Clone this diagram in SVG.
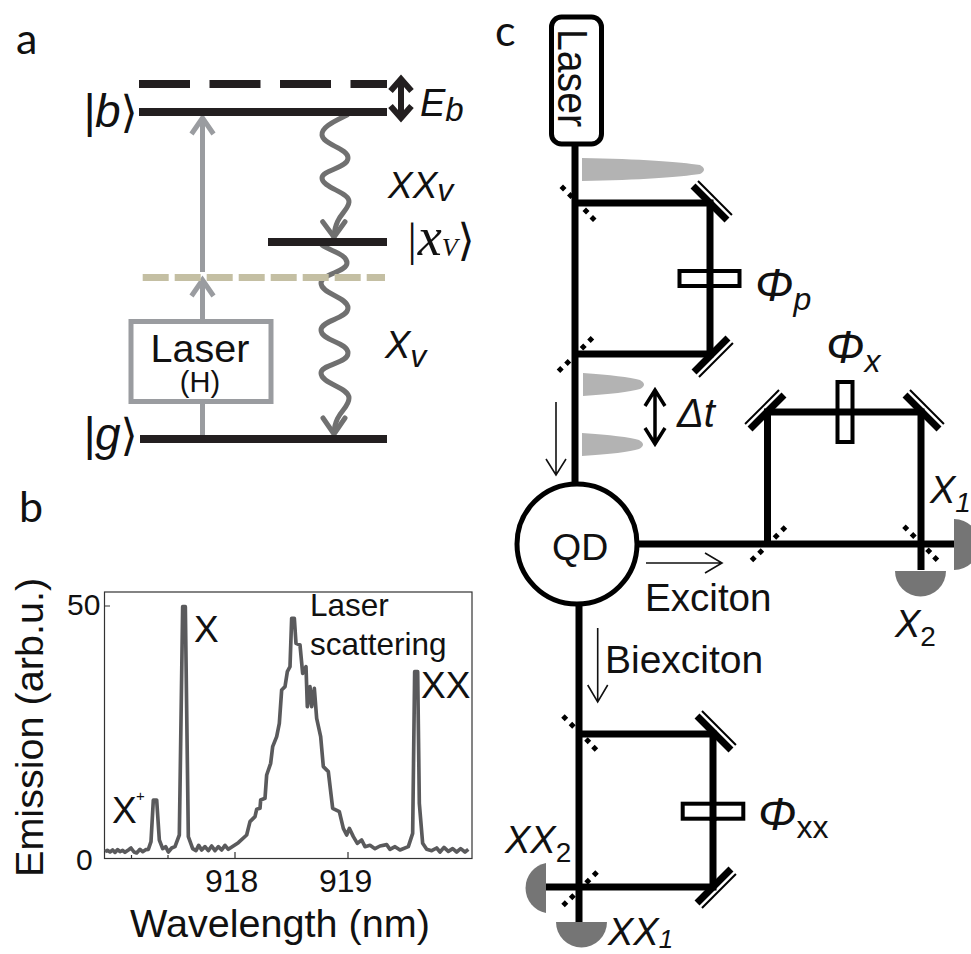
<svg xmlns="http://www.w3.org/2000/svg" xmlns:xlink="http://www.w3.org/1999/xlink" width="971" height="954" viewBox="0 0 971 954">
<style>
text{font-family:"Liberation Sans",Arial,sans-serif;fill:#111}
.pl{font-family:Lato,"Open Sans",sans-serif;font-size:43px}
.i{font-style:italic}
.s{font-family:"Liberation Serif",serif;font-style:italic}
.lv{stroke:#231f20;stroke-width:8;fill:none}
.gr{stroke:#9a9ca0;stroke-width:5;fill:none}
.wv{stroke:#707070;stroke-width:5;fill:none;stroke-linecap:round;stroke-linejoin:round}
.bm{stroke:#000;stroke-width:7;fill:none}
.th{stroke:#111;stroke-width:1.600;fill:none}
.pu{fill:#b3b3b3}
.de{fill:#757575}
.pl2{fill:#fff;stroke:#000;stroke-width:4}
</style>
<defs>
<g id="mirror"><line x1="-24" y1="0" x2="24" y2="0" stroke="#000" stroke-width="7"/><line x1="-24" y1="-7" x2="24" y2="-7" stroke="#000" stroke-width="2"/></g>
<g id="bs" fill="#000"><path d="M-15 -19.500l3.500 3.500l-3.500 3.500l-3.500 -3.500zM-7.500 -12l3.500 3.500l-3.500 3.500l-3.500 -3.500zM8 3.500l3.500 3.500l-3.500 3.500l-3.500 -3.500zM15 11l3.500 3.500l-3.500 3.500l-3.500 -3.500z"/></g>
</defs>
<rect width="971" height="954" fill="#fff"/>

<g id="panel-labels">
<text class="pl" x="16" y="54">a</text>
<text class="pl" x="19" y="522">b</text>
<text class="pl" x="495" y="46">c</text>
</g>

<g id="connectors">
<path class="gr" d="M202.500 436V402M202.500 320V282M202.500 272V120"/>
<path class="gr" d="M191.500 134L202.500 118L213.500 134M191.500 296L202.500 280L213.500 296"/>
<path class="wv" d="M347 115C335 121 321 127 322 135C323 145 348 148 348 158C348 168 322 170 322 178C322 188 350 192 349 202C348 212 335 215 334 237"/>
<path class="wv" d="M322.700 221.700L334 237L345 221.700"/>
<path class="wv" d="M322 245C330 251 347 254 347 263C347 272 321 274 321 283C321 294 348 297 348 308C348 319 321 320 321 330C321 341 348 342 348 353C348 364 321 364 321 373C321 384 349 387 349 398C349 409 335 412 334 433"/>
<path class="wv" d="M323 418L334 434L345 418"/>
<path d="M401 81V116M390.500 91L401 79L411.500 91M390.500 106L401 118L411.500 106" fill="none" stroke="#231f20" stroke-width="6"/>
<use xlink:href="#bs" href="#bs" transform="translate(578 204)"/>
<use xlink:href="#bs" href="#bs" transform="translate(574.700 354.500) rotate(90)"/>
<use xlink:href="#bs" href="#bs" transform="translate(767.700 543.700) rotate(90)"/>
<use xlink:href="#bs" href="#bs" transform="translate(920.700 544)"/>
<use xlink:href="#bs" href="#bs" transform="translate(579.700 733.700)"/>
<use xlink:href="#bs" href="#bs" transform="translate(579.300 888.700) rotate(90)"/>
<path class="bm" d="M575 146V484M575 203H710V354H575"/>
<path class="bm" d="M767.500 544V412H921V570M638 544H955"/>
<path class="bm" d="M579 605V924M579 734H713V887H546"/>
<path class="th" d="M556 402V475M546 459L556 475L566 459"/>
<path class="th" d="M646 563H722M705 553L722 563L705 573"/>
<path class="th" d="M597.700 628V702M587.700 685L597.700 702L607.700 685"/>
<path d="M655 390V443M645 406L655 390L665 406M645 428L655 444L665 428" fill="none" stroke="#000" stroke-width="3.500"/>
</g>

<g id="level-states">
<path class="lv" d="M139 84H387" stroke-dasharray="51 19.500"/>
<path class="lv" d="M139 112H387"/>
<path class="lv" d="M268 242H387"/>
<path class="lv" d="M140 439H387"/>
<path d="M142.700 277.500H385" fill="none" stroke="#c4bfa3" stroke-width="7" stroke-dasharray="26 6"/>
<text x="83" y="127" font-size="46" class="i">|b<tspan style="font-style:normal;font-family:'DejaVu Sans'" font-size="44">⟩</tspan></text>
<text x="83" y="450" font-size="46" class="i">|g<tspan style="font-style:normal;font-family:'DejaVu Sans'" font-size="44">⟩</tspan></text>
<text x="405" y="255" font-size="46" class="s">|<tspan font-size="54">x</tspan><tspan font-size="26" dy="1">V</tspan><tspan dy="-1" style="font-style:normal;font-family:'DejaVu Sans'" font-size="44">⟩</tspan></text>
<text x="420" y="116" font-size="38" class="i">E<tspan font-size="33" dy="5">b</tspan></text>
<text x="388" y="198" font-size="37" class="i">XX<tspan font-size="32" dy="3">v</tspan></text>
<text x="385" y="358" font-size="38" class="i">X<tspan font-size="32" dy="9">v</tspan></text>
</g>

<g id="laser-h">
<rect x="131" y="321.500" width="140" height="80" fill="#fff" stroke="#9a9ca0" stroke-width="5"/>
<text x="200" y="362" font-size="39.500" text-anchor="middle">Laser</text>
<text x="200" y="392" font-size="29" text-anchor="middle">(H)</text>
</g>

<g id="spectrum">
<rect x="104.500" y="592" width="367.500" height="266.500" fill="#fff" stroke="#333" stroke-width="1.200"/>
<path d="M104.500 606H110M235 852V858M348 852V858M131.500 855V858M168 855V858" stroke="#333" stroke-width="1.200" fill="none"/>
<path transform="translate(0 470) scale(.33333)" fill="none" stroke="#5a5a5c" stroke-width="11" stroke-linejoin="round" d="M315 1145L322 1141L330 1146L338 1140L345 1147L353 1139L360 1145L368 1141L375 1147L385 1140L393 1134L402 1146L410 1149L420 1138L428 1145L437 1139L445 1138L453 1115L460 990L470 990L478 1110L488 1136L497 1130L505 1146L515 1134L525 1130L538 1095L548 410L556 410L565 1100L578 1136L588 1142L596 1126L605 1140L615 1130L625 1142L635 1128L645 1142L655 1130L665 1140L675 1126L685 1138L700 1128L715 1118L740 1095L750 1055L765 1040L770 1018L780 1015L782 990L795 985L800 915L812 880L818 830L830 800L838 760L845 660L855 650L862 605L870 590L875 445L883 445L888 520L900 525L908 610L918 590L922 710L930 650L935 710L943 655L950 745L962 800L970 890L985 905L998 1015L1018 1025L1030 1075L1040 1095L1048 1075L1060 1100L1072 1120L1085 1110L1095 1130L1110 1126L1125 1136L1140 1128L1160 1124L1170 1138L1185 1130L1200 1140L1225 1130L1238 1090L1244 605L1253 605L1258 1000L1268 1120L1280 1138L1295 1142L1310 1134L1320 1146L1332 1132L1345 1144L1358 1136L1370 1146L1382 1136L1395 1146L1405 1138"/>
<text x="67" y="615" font-size="30">50</text>
<text x="76" y="870" font-size="30">0</text>
<text x="205" y="892" font-size="32">918</text>
<text x="319" y="892" font-size="32">919</text>
<text x="43" y="877" font-size="39.600" transform="rotate(-90 43 877)">Emission (arb.u.)</text>
<text x="130" y="937" font-size="39.600">Wavelength (nm)</text>
<text x="194" y="642" font-size="37">X</text>
<text x="421" y="698" font-size="37">XX</text>
<text x="112" y="823" font-size="37">X</text>
<text x="136" y="801" font-size="15">+</text>
<text x="310" y="616" font-size="31.500">Laser</text>
<text x="310" y="655" font-size="31.500">scattering</text>
</g>

<g id="laser">
<rect x="551.500" y="17" width="50" height="127" rx="10" fill="#fff" stroke="#000" stroke-width="5"/>
<text x="558" y="29" font-size="42" textLength="98" lengthAdjust="spacingAndGlyphs" transform="rotate(90 558 29)">Laser</text>
</g>

<g id="pulses">
<path class="pu" d="M582 158C640 159 680 162 700 165Q708 169.500 700 174C680 177 640 180 582 181Z"/>
<path class="pu" d="M583 373C610 375 630 377 640 380Q648 384.500 640 389C630 392 610 394 583 396Z"/>
<path class="pu" d="M582 433C610 435 630 437 639 440Q647 444.500 639 449C630 452 610 454 582 456Z"/>
</g>

<g id="mirrors">
<use xlink:href="#mirror" href="#mirror" transform="translate(710 203) rotate(45)"/>
<use xlink:href="#mirror" href="#mirror" transform="translate(711 355) rotate(135)"/>
<use xlink:href="#mirror" href="#mirror" transform="translate(767 412) rotate(-45)"/>
<use xlink:href="#mirror" href="#mirror" transform="translate(922 412) rotate(45)"/>
<use xlink:href="#mirror" href="#mirror" transform="translate(714 733) rotate(45)"/>
<use xlink:href="#mirror" href="#mirror" transform="translate(714 886) rotate(135)"/>
</g>

<g id="phase-p">
<rect class="pl2" x="679.500" y="271" width="60" height="15"/>
<path class="bm" d="M710 269V288"/>
<text x="755" y="301" font-size="46" class="i">Φ<tspan font-size="32" dy="9">p</tspan></text>
</g>
<g id="phase-x">
<rect class="pl2" x="837.500" y="382" width="15" height="60"/>
<path class="bm" d="M836 412H854"/>
<text x="826" y="363" font-size="46" class="i">Φ<tspan font-size="32" dy="9">x</tspan></text>
</g>
<g id="phase-xx">
<rect class="pl2" x="682.700" y="803.700" width="60.600" height="15"/>
<path class="bm" d="M713 802V821"/>
<text x="758" y="830" font-size="46" class="i">Φ<tspan font-size="32" dy="8" style="font-style:normal">xx</tspan></text>
</g>

<g id="qd">
<circle cx="577" cy="544" r="60" fill="#fff" stroke="#000" stroke-width="5"/>
<text x="552" y="560" font-size="37.500">QD</text>
</g>

<g id="det-x1"><path class="de" d="M954 519A25.500 25.500 0 0 1 954 570Z"/><text x="930" y="503" font-size="38" class="i">X<tspan font-size="28" dy="9">1</tspan></text></g>
<g id="det-x2"><path class="de" d="M895 571A25.500 25.500 0 0 0 946 571Z"/><text x="895" y="637" font-size="38" class="i">X<tspan font-size="28" dy="9" style="font-style:normal">2</tspan></text></g>
<g id="det-xx2"><path class="de" d="M546 863A25.500 25.500 0 0 0 546 913Z"/><text x="505" y="853" font-size="38" class="i">XX<tspan font-size="28" dy="9" style="font-style:normal">2</tspan></text></g>
<g id="det-xx1"><path class="de" d="M556 922A25.500 25.500 0 0 0 607 922Z"/><text x="608" y="945" font-size="38" class="i">XX<tspan font-size="26" dy="3">1</tspan></text></g>

<g id="labels-c">
<text x="677" y="427" font-size="40" class="i">Δt</text>
<text x="645" y="611" font-size="38.600">Exciton</text>
<text x="605" y="673" font-size="39">Biexciton</text>
</g>
</svg>
